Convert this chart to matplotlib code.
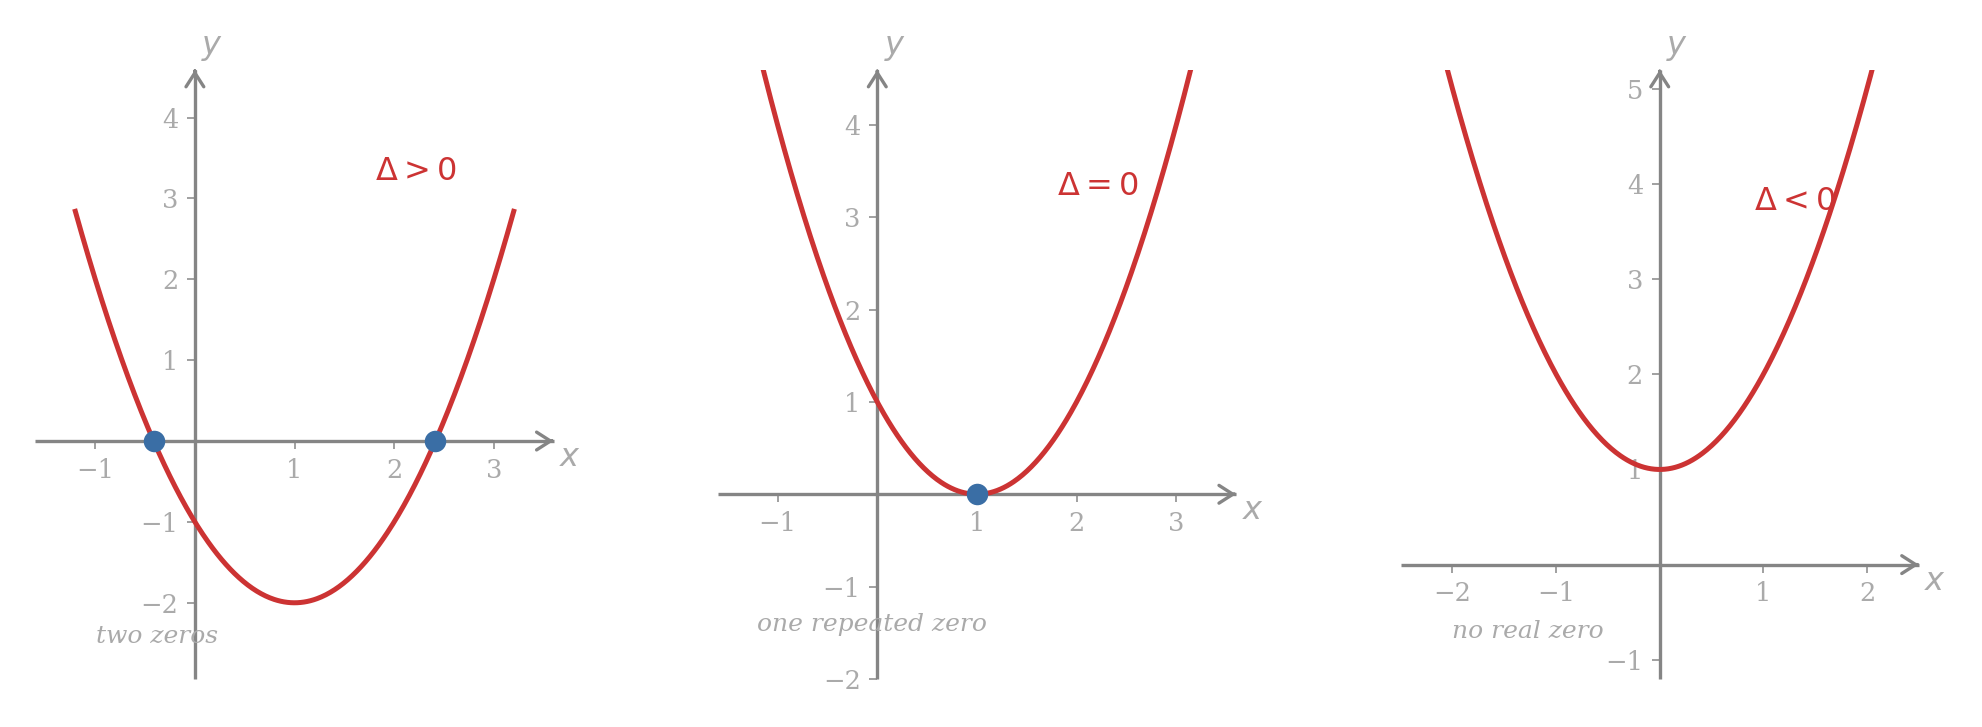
import numpy as np
import matplotlib
matplotlib.use("Agg")
import matplotlib.pyplot as plt

# ---- data ----
coeffs = [[1, -2, -1], [1, -2, 1], [1, 0, 1]]          # a, b, c for each panel
x_domains = [[-1.2, 3.2], [-1.2, 3.2], [-2.2, 2.2]]
zeros = [[-0.414, 2.414], [1.0], []]
delta_labels = [r"$\Delta > 0$", r"$\Delta = 0$", r"$\Delta < 0$"]
delta_pos = [[2.22, 3.33], [2.21, 3.33], [1.30, 3.82]]
notes = ["two zeros", "one repeated zero", "no real zero"]
note_pos = [[-0.38, -2.42], [-0.05, -1.41], [-1.27, -0.70]]
xlims = [[-1.6, 3.6], [-1.6, 3.6], [-2.5, 2.5]]
ylims = [[-2.94, 4.59], [-2.0, 4.6], [-1.2, 5.2]]
xticks = [[-1, 1, 2, 3], [-1, 1, 2, 3], [-2, -1, 1, 2]]
yticks = [[-2, -1, 1, 2, 3, 4], [-2, -1, 1, 2, 3, 4], [-1, 1, 2, 3, 4, 5]]

RED = "#cc3333"
BLUE = "#3a6ea5"
AXC = "#858585"
TXT = "#aaaaaa"

fig = plt.figure(figsize=(19.82, 7.27), dpi=100)
lefts = [0.0179, 0.3622, 0.7067]
for i in range(3):
    ax = fig.add_axes([lefts[i], 0.0663, 0.2614, 0.8377])
    ax.set_xlim(*xlims[i])
    ax.set_ylim(*ylims[i])
    for s in ["top", "right"]:
        ax.spines[s].set_visible(False)
    for s in ["left", "bottom"]:
        ax.spines[s].set_position("zero")
        ax.spines[s].set_color(AXC)
        ax.spines[s].set_linewidth(2.4)
        ax.spines[s].set_capstyle("butt")
    ax.set_xticks(xticks[i])
    ax.set_yticks(yticks[i])
    ax.set_xticklabels([f"{t}".replace("-", "\u2212") for t in xticks[i]])
    ax.set_yticklabels([f"{t}".replace("-", "\u2212") for t in yticks[i]])
    ax.tick_params(direction="out", length=6, width=1.4, color="#a0a0a0",
                   labelcolor=TXT, labelsize=18.5, pad=6)
    for lab in ax.get_xticklabels() + ax.get_yticklabels():
        lab.set_family("DejaVu Serif")

    # arrowheads
    xmin, xmax = xlims[i]
    ymin, ymax = ylims[i]
    ap = dict(arrowstyle="->,head_length=0.5,head_width=0.32", color=AXC,
              lw=2.4, shrinkA=0, shrinkB=0, mutation_scale=20)
    ax.annotate("", xy=(xmax, 0), xytext=(xmax - 0.02, 0), arrowprops=ap,
                annotation_clip=False)
    ax.annotate("", xy=(0, ymax), xytext=(0, ymax - 0.02), arrowprops=ap,
                annotation_clip=False)
    ax.annotate(r"$x$", xy=(xmax, 0), xytext=(12, -12), textcoords="offset points",
                ha="center", va="center", fontsize=23, color=TXT, annotation_clip=False)
    ax.annotate(r"$y$", xy=(0, ymax), xytext=(12.5, 16), textcoords="offset points",
                ha="center", va="center", fontsize=23, color=TXT, annotation_clip=False)

    # curve
    xs = np.linspace(x_domains[i][0], x_domains[i][1], 400)
    ax.plot(xs, np.polyval(coeffs[i], xs), color=RED, lw=3.6, zorder=3)
    if zeros[i]:
        ax.plot(zeros[i], [0] * len(zeros[i]), "o", color=BLUE, ms=15.5,
                mec="none", zorder=4, clip_on=False)

    ax.text(delta_pos[i][0], delta_pos[i][1], delta_labels[i], color=RED,
            fontsize=23, ha="center", va="center")
    ax.text(note_pos[i][0], note_pos[i][1], notes[i], color=TXT, fontsize=18,
            family="DejaVu Serif", style="italic", ha="center", va="center")

fig.savefig("out.png", dpi=100)
